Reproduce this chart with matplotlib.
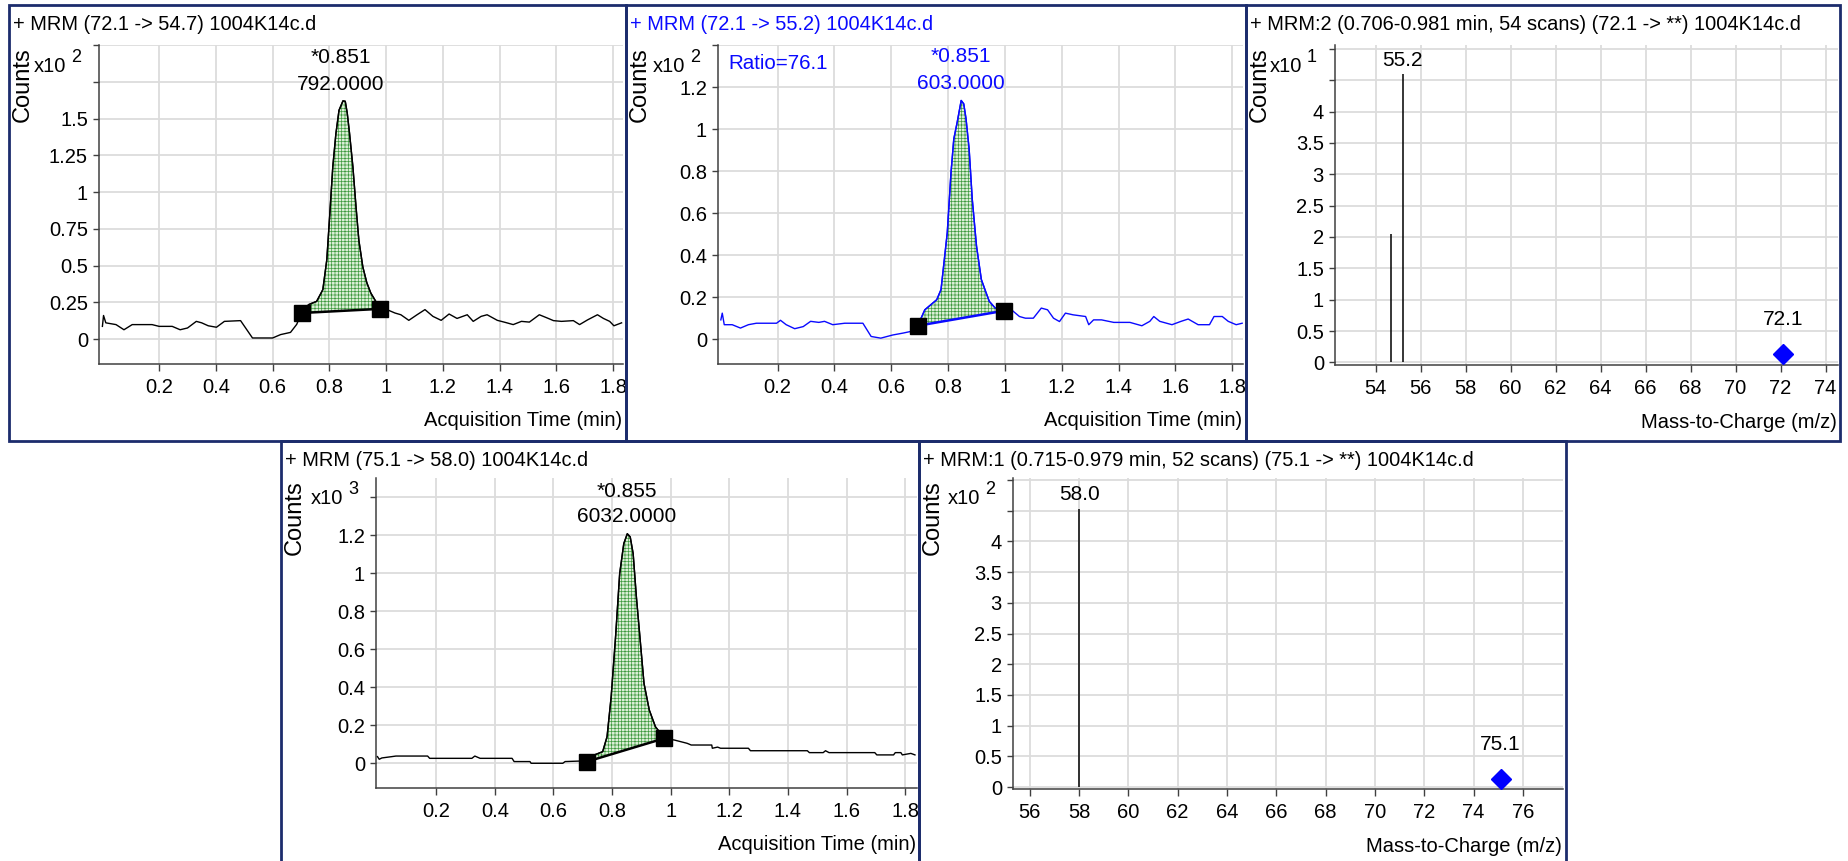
import numpy as np
import matplotlib
matplotlib.use("Agg")
import matplotlib.pyplot as plt
from matplotlib.patches import Rectangle

plt.rcParams['font.family'] = ['Liberation Sans', 'DejaVu Sans']
plt.rcParams['hatch.linewidth'] = 0.5

W, H = 1849, 861

# ---------------- data ----------------
# chromatogram MRM (72.1 -> 54.7), counts x10^2
t_a = [0.0, 0.004, 0.012, 0.048, 0.076, 0.105, 0.175, 0.2, 0.246, 0.274,
       0.30, 0.331, 0.35, 0.373, 0.402, 0.43, 0.487, 0.529, 0.60, 0.628,
       0.663, 0.685, 0.702, 0.727, 0.755, 0.77, 0.777, 0.791, 0.801, 0.812,
       0.823, 0.834, 0.848, 0.856, 0.863, 0.871, 0.883, 0.894, 0.904, 0.918,
       0.932, 0.946, 0.967, 0.979, 1.003, 1.031, 1.052, 1.08, 1.109, 1.137,
       1.165, 1.194, 1.222, 1.25, 1.286, 1.307, 1.335, 1.356, 1.392, 1.42,
       1.448, 1.477, 1.505, 1.54, 1.568, 1.59, 1.618, 1.66, 1.682, 1.71,
       1.745, 1.766, 1.788, 1.803, 1.83]
c_a = [0.086, 0.16, 0.11, 0.098, 0.063, 0.098, 0.098, 0.086, 0.086, 0.063,
       0.075, 0.12, 0.11, 0.09, 0.08, 0.12, 0.125, 0.007, 0.007, 0.03,
       0.045, 0.10, 0.18, 0.234, 0.256, 0.31, 0.336, 0.54, 0.834, 1.17,
       1.397, 1.556, 1.62, 1.617, 1.537, 1.401, 1.17, 0.898, 0.671, 0.49,
       0.383, 0.313, 0.245, 0.211, 0.2, 0.177, 0.165, 0.127, 0.165, 0.2,
       0.154, 0.127, 0.17, 0.14, 0.165, 0.12, 0.154, 0.165, 0.127, 0.113,
       0.098, 0.12, 0.115, 0.165, 0.143, 0.125, 0.12, 0.125, 0.098, 0.13,
       0.165, 0.14, 0.12, 0.09, 0.11]
base_t_a = [0.702, 0.979]
base_c_a = [0.177, 0.205]

# chromatogram MRM (72.1 -> 55.2), counts x10^2
t_b = [0.0, 0.005, 0.012, 0.04, 0.069, 0.097, 0.125, 0.196, 0.21, 0.23,
       0.26, 0.29, 0.316, 0.345, 0.365, 0.394, 0.436, 0.50, 0.529, 0.563,
       0.605, 0.641, 0.669, 0.693, 0.718, 0.76, 0.775, 0.797, 0.81, 0.82,
       0.832, 0.846, 0.855, 0.863, 0.874, 0.885, 0.90, 0.917, 0.934, 0.945,
       0.966, 0.996, 1.023, 1.051, 1.072, 1.10, 1.128, 1.15, 1.171, 1.192,
       1.213, 1.24, 1.284, 1.295, 1.312, 1.34, 1.383, 1.44, 1.482, 1.51,
       1.524, 1.545, 1.588, 1.62, 1.645, 1.68, 1.72, 1.736, 1.765, 1.786,
       1.814, 1.835]
c_b = [0.092, 0.124, 0.069, 0.069, 0.053, 0.069, 0.076, 0.076, 0.09, 0.069,
       0.05, 0.06, 0.085, 0.08, 0.085, 0.069, 0.076, 0.076, 0.013, 0.005,
       0.02, 0.029, 0.037, 0.064, 0.14, 0.188, 0.236, 0.507, 0.79, 0.953,
       1.033, 1.136, 1.12, 1.05, 0.905, 0.666, 0.443, 0.284, 0.22, 0.18,
       0.148, 0.135, 0.14, 0.108, 0.10, 0.10, 0.148, 0.14, 0.10, 0.084,
       0.124, 0.116, 0.108, 0.069, 0.092, 0.092, 0.08, 0.08, 0.064, 0.085,
       0.108, 0.085, 0.069, 0.085, 0.096, 0.069, 0.069, 0.108, 0.108, 0.085,
       0.069, 0.076]
base_t_b = [0.693, 0.996]
base_c_b = [0.064, 0.135]

# chromatogram MRM (75.1 -> 58.0), counts x10^3
t_c = [0.0, 0.006, 0.015, 0.049, 0.063, 0.171, 0.178, 0.322, 0.332, 0.35,
       0.459, 0.466, 0.52, 0.524, 0.632, 0.64, 0.696, 0.715, 0.74, 0.768,
       0.783, 0.797, 0.812, 0.826, 0.84, 0.852, 0.862, 0.872, 0.883, 0.895,
       0.909, 0.927, 0.948, 0.97, 0.978, 1.013, 1.056, 1.07, 1.14, 1.142,
       1.16, 1.17, 1.265, 1.272, 1.466, 1.473, 1.52, 1.528, 1.54, 1.696,
       1.703, 1.76, 1.766, 1.785, 1.79, 1.819, 1.833]
c_c = [0.035, 0.021, 0.028, 0.035, 0.038, 0.038, 0.026, 0.026, 0.038, 0.026,
       0.026, 0.009, 0.009, 0.0, 0.0, 0.009, 0.012, 0.009, 0.044, 0.061,
       0.14, 0.35, 0.665, 0.997, 1.155, 1.207, 1.19, 1.102, 0.875, 0.665,
       0.42, 0.28, 0.192, 0.149, 0.131, 0.122, 0.105, 0.096, 0.096, 0.079,
       0.085, 0.079, 0.079, 0.066, 0.066, 0.056, 0.056, 0.066, 0.056, 0.056,
       0.044, 0.044, 0.056, 0.056, 0.044, 0.052, 0.044]
base_t_c = [0.715, 0.978]
base_c_c = [0.009, 0.131]

# product ion spectra
mz_a = [54.7, 55.2]
int_a = [2.04, 4.6]
prec_a = 72.1
prec_int_a = 0.135

mz_c = [58.0]
int_c = [4.53]
prec_c = 75.1
prec_int_c = 0.135

# titles / labels
titles = ["+ MRM (72.1 -> 54.7) 1004K14c.d",
          "+ MRM (72.1 -> 55.2) 1004K14c.d",
          "+ MRM:2 (0.706-0.981 min, 54 scans) (72.1 -> **) 1004K14c.d",
          "+ MRM (75.1 -> 58.0) 1004K14c.d",
          "+ MRM:1 (0.715-0.979 min, 52 scans) (75.1 -> **) 1004K14c.d"]
exponents = ["2", "2", "1", "3", "2"]
peak_rt = ["*0.851", "*0.851", "*0.855"]
peak_area = ["792.0000", "603.0000", "6032.0000"]
ratio_text = "Ratio=76.1"

time_ticks = [0.2, 0.4, 0.6, 0.8, 1.0, 1.2, 1.4, 1.6, 1.8]
yt_a = [0, 0.25, 0.5, 0.75, 1, 1.25, 1.5, 1.75, 2.0]
yt_b = [0, 0.2, 0.4, 0.6, 0.8, 1.0, 1.2, 1.4]
yt_c = [0, 0.2, 0.4, 0.6, 0.8, 1.0, 1.2, 1.4]
yt_spec = [0, 0.5, 1, 1.5, 2, 2.5, 3, 3.5, 4, 4.5, 5]
mz_ticks_a = [54, 56, 58, 60, 62, 64, 66, 68, 70, 72, 74]
mz_ticks_c = [56, 58, 60, 62, 64, 66, 68, 70, 72, 74, 76]

# ---------------- layout (pixels) ----------------
BLUE = '#0a0aff'
NAVY = '#1c2c6c'
panels = [(9, 5, 626, 441), (626, 5, 1246, 441), (1246, 5, 1840, 441),
          (281, 441, 919, 866), (919, 441, 1566, 866)]
axboxes = [(99, 45, 623, 364), (718, 45, 1243, 364), (1335, 45, 1838, 365),
           (376, 478, 917, 788), (1013, 478, 1563, 789)]

fig = plt.figure(figsize=(W / 100, H / 100), dpi=100)


def ftext(x, y, s, **kw):
    return fig.text(x / W, 1 - y / H, s, **kw)


def fmt(v):
    return '%g' % v


def make_axes(i, xlim, ylim, xticks, yticks, n_ylab):
    l, t, r, b = axboxes[i]
    ax = fig.add_axes([l / W, 1 - b / H, (r - l) / W, (b - t) / H])
    ax.set_xlim(xlim)
    ax.set_ylim(ylim)
    ax.set_xticks(xticks)
    ax.set_xticklabels([fmt(v) for v in xticks])
    ax.set_yticks(yticks)
    ax.set_yticklabels([fmt(v) if k < n_ylab else '' for k, v in enumerate(yticks)])
    ax.grid(True, color='#dcdcdc', lw=1.3)
    ax.set_axisbelow(True)
    ax.spines['top'].set_visible(False)
    ax.spines['right'].set_visible(False)
    for s in ['left', 'bottom']:
        ax.spines[s].set_color('#404040')
        ax.spines[s].set_linewidth(1.1)
    ax.tick_params(axis='x', length=5, width=1, pad=5, labelsize=14.5, colors='#404040', labelcolor='black')
    ax.tick_params(axis='y', length=4, width=1, pad=4, labelsize=14.5, colors='#404040', labelcolor='black')

    # frame, title, Counts, multiplier, x label
    pl, pt, pr, pb = panels[i]
    fig.add_artist(Rectangle((pl / W, 1 - pb / H), (pr - pl) / W, (pb - pt) / H,
                             transform=fig.transFigure, fill=False,
                             edgecolor=NAVY, linewidth=2.0))
    ftext(pl + 4, pt + 19, titles[i], fontsize=14.4, va='center', ha='left',
          color=BLUE if i == 1 else 'black')
    ftext(pl + 14, t + 2, "Counts", fontsize=17, rotation=90, va='top', ha='center')
    ftext(l - 33, t + 21, "x10", fontsize=14.5, va='center', ha='right')
    ftext(l - 28, t + 12, exponents[i], fontsize=13, va='center', ha='left')
    xl = "Acquisition Time (min)" if i in (0, 1, 3) else "Mass-to-Charge (m/z)"
    ftext(r - 1, b + 57, xl, fontsize=14.5, va='center', ha='right')
    return ax


def chromatogram(ax, t, c, bt, bc, color, rt, area, lab_x, lab_y, lab_color):
    t = np.asarray(t)
    c = np.asarray(c)
    ax.plot(t, c, color=color, lw=1.0, zorder=3)
    inside = (t > bt[0]) & (t < bt[1])
    ts = np.concatenate([[bt[0]], t[inside], [bt[1]]])
    cs = np.interp(ts, t, c)
    bs = np.interp(ts, bt, bc)
    ax.fill_between(ts, cs, bs, facecolor='#dcefd7', edgecolor='#3f993f',
                    hatch='+++++', linewidth=0, zorder=2)
    ax.plot(ts, cs, color=color, lw=1.0, zorder=3)
    ax.plot(bt, bc, color=color, lw=1.8, zorder=4)
    ax.plot(bt, bc, 's', color='black', ms=11.5, zorder=5, clip_on=False)
    ax.text(lab_x, lab_y[0], rt, fontsize=15, ha='center', va='center', color=lab_color)
    ax.text(lab_x, lab_y[1], area, fontsize=15, ha='center', va='center', color=lab_color)


def spectrum(ax, mz, inten, prec, prec_int, lab_y, prec_lab_y):
    ax.vlines(mz, 0, inten, color='black', lw=1.1, zorder=3)
    ax.plot([prec], [prec_int], 'D', color='#0000ff', ms=10.5, zorder=4, clip_on=False)
    k = int(np.argmax(inten))
    ax.text(mz[k], lab_y, '%.1f' % mz[k], fontsize=15, ha='center', va='center')
    ax.text(prec, prec_lab_y, '%.1f' % prec, fontsize=15, ha='center', va='center')


# panel 1
ax1 = make_axes(0, (-0.012, 1.835), (-0.17, 2.0), time_ticks, yt_a, 7)
chromatogram(ax1, t_a, c_a, base_t_a, base_c_a, 'black', peak_rt[0], peak_area[0],
             0.84, (1.915, 1.73), 'black')

# panel 2
ax2 = make_axes(1, (-0.01, 1.838), (-0.118, 1.4), time_ticks, yt_b, 7)
chromatogram(ax2, t_b, c_b, base_t_b, base_c_b, BLUE, peak_rt[1], peak_area[1],
             0.844, (1.346, 1.217), BLUE)
ax2.text(0.028, 1.312, ratio_text, fontsize=14.8, ha='left', va='center', color=BLUE)

# panel 3
ax3 = make_axes(2, (52.2, 74.55), (-0.04, 5.06), mz_ticks_a, yt_spec, 9)
spectrum(ax3, mz_a, int_a, prec_a, prec_int_a, 4.82, 0.68)

# panel 4
ax4 = make_axes(3, (-0.005, 1.84), (-0.13, 1.5), time_ticks, yt_c, 7)
chromatogram(ax4, t_c, c_c, base_t_c, base_c_c, 'black', peak_rt[2], peak_area[2],
             0.851, (1.43, 1.295), 'black')

# panel 5
ax5 = make_axes(4, (55.32, 77.63), (-0.03, 5.03), mz_ticks_c, yt_spec, 9)
spectrum(ax5, mz_c, int_c, prec_c, prec_int_c, 4.76, 0.69)

fig.savefig("out.png", dpi=100)
